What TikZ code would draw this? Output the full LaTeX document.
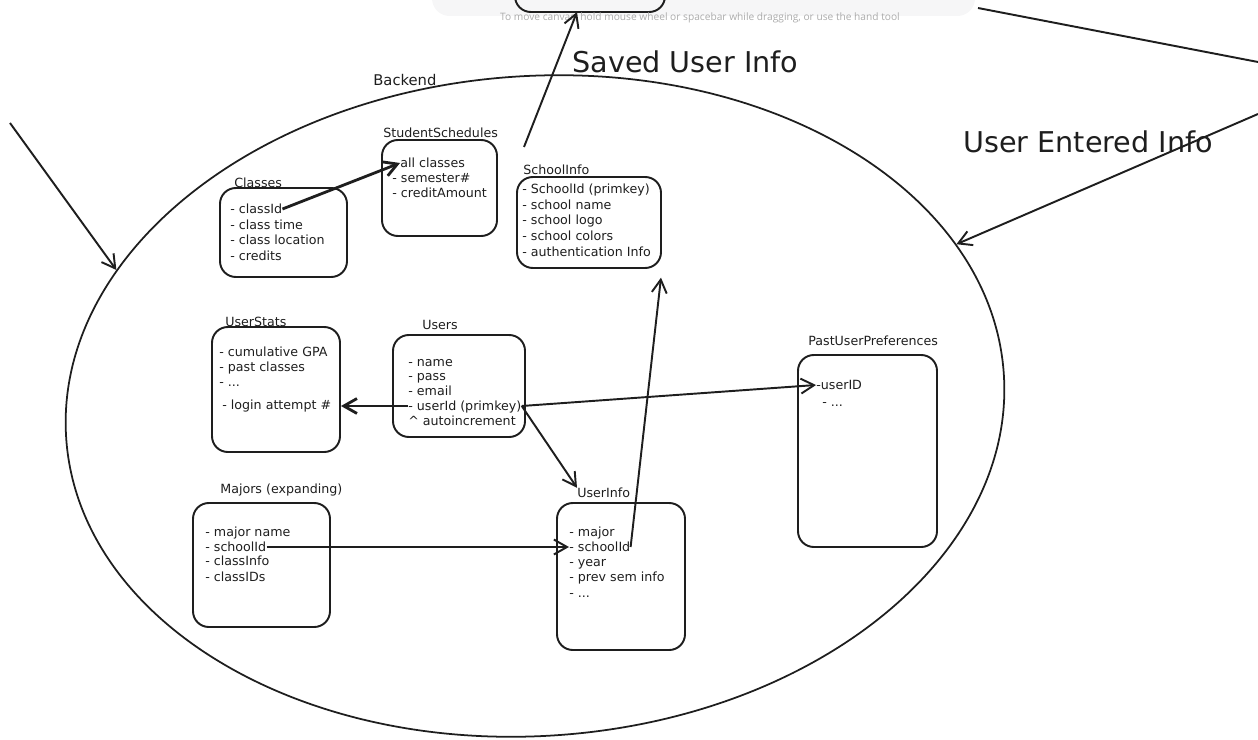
\documentclass[tikz,border=0pt]{standalone}
\usepackage{fontspec}
\setmainfont{DejaVu Sans}
\newfontfamily\hintfont{Open Sans}
\usetikzlibrary{arrows.meta,fit,shapes.geometric}
\definecolor{ink}{HTML}{1E1E1E}
\definecolor{hintgray}{HTML}{ABABAB}
\definecolor{barfill}{HTML}{F6F6F7}
\tikzset{
  tbl/.style={draw=ink, line width=1.1pt, rounded corners=9pt, inner sep=0pt},
  ttl/.style={anchor=west, inner sep=0pt, text=ink, font=\fontsize{7.2}{8.6}\selectfont},
  itm/.style={ttl, text height=1.2ex, text depth=.25ex},
  big/.style={anchor=west, inner sep=0pt, text=ink, font=\fontsize{16.3}{19}\selectfont},
  arr/.style={draw=ink, line width=1.1pt, -{Straight Barb[length=7.5pt,width=8.5pt]}},
  fatarr/.style={arr, line width=1.6pt},
}
\begin{document}
\begin{tikzpicture}[x=0.02cm,y=-0.02cm]
  \clip (0,0) rectangle (1258,740);
  % toolbar and canvas hint
  \fill[barfill, rounded corners=10pt] (432,-30) rectangle (975,16);
  \node[tbl, fit={(515,-40) (665,12)}] (topbox) {};
  \node[text=hintgray, font=\hintfont\fontsize{5.8}{7}\selectfont, inner sep=0pt] (hint) at (700,18)
    {To move canvas, hold mouse wheel or spacebar while dragging, or use the hand tool};

  % backend
  \node[draw=ink, line width=1pt, ellipse, rotate=4, minimum width=18.8cm, minimum height=13.2cm, inner sep=0pt] (backend) at (535,406) {};
  \node[ttl, font=\fontsize{8.4}{10}\selectfont] (backendlbl) at (373,80) {Backend};
  \node[big] (savedlbl) at (572,62) {Saved User Info};
  \node[big] (enteredlbl) at (963,142) {User Entered Info};

  % tables
  \node[tbl, fit={(220,188) (347,277)}] (classes) {};
  \node[ttl] (classesT) at (234,183) {Classes};
  \node[itm] (clsid) at (230,209) {- classId};
  \node[itm] (clstime) at (230,225) {- class time};
  \node[itm] (clsloc) at (230,240) {- class location};
  \node[itm] (clscred) at (230,256) {- credits};

  \node[tbl, fit={(382,140) (497,236)}] (sched) {};
  \node[ttl] (schedT) at (383,133) {StudentSchedules};
  \node[itm] (allcls) at (400,163) {all classes};
  \node[itm] (semno) at (392,178) {- semester\#};
  \node[itm] (credamt) at (392,193) {- creditAmount};

  \node[tbl, fit={(517,177) (661,268)}] (school) {};
  \node[ttl] (schoolT) at (523,170) {SchoolInfo};
  \node[itm] (schid) at (522,189) {- SchoolId (primkey)};
  \node[itm] (schname) at (522,205) {- school name};
  \node[itm] (schlogo) at (522,220) {- school logo};
  \node[itm] (schcol) at (522,236) {- school colors};
  \node[itm] (schauth) at (522,252) {- authentication Info};

  \node[tbl, fit={(212,327) (340,452)}] (stats) {};
  \node[ttl] (statsT) at (225,322) {UserStats};
  \node[itm] (gpa) at (219,352) {- cumulative GPA};
  \node[itm] (pastcls) at (219,367) {- past classes};
  \node[itm] (statsmore) at (219,382) {- ...};
  \node[itm] (login) at (222,405) {- login attempt \#};

  \node[tbl, fit={(393,335) (525,437)}] (users) {};
  \node[ttl] (usersT) at (422,325) {Users};
  \node[itm] (uname) at (408,362) {- name};
  \node[itm] (upass) at (408,376) {- pass};
  \node[itm] (uemail) at (408,391) {- email};
  \node[itm] (userid) at (408,406) {- userId (primkey)};
  \node[itm] (autoinc) at (408,421) {\textasciicircum{} autoincrement};

  \node[tbl, fit={(193,503) (330,627)}] (majors) {};
  \node[ttl] (majorsT) at (220,490) {Majors (expanding)};
  \node[itm] (mname) at (205,532) {- major name};
  \node[itm] (msid) at (205,547) {- schoolId};
  \node[itm] (minfo) at (205,561) {- classInfo};
  \node[itm] (mids) at (205,577) {- classIDs};

  \node[tbl, fit={(557,503) (685,650)}] (uinfo) {};
  \node[ttl] (uinfoT) at (577,493) {UserInfo};
  \node[itm] (uimajor) at (569,532) {- major};
  \node[itm] (uisid) at (569,547) {- schoolId};
  \node[itm] (uiyear) at (569,562) {- year};
  \node[itm] (uiprev) at (569,577) {- prev sem info};
  \node[itm] (uimore) at (569,593) {- ...};

  \node[tbl, fit={(798,355) (937,547)}] (pastpref) {};
  \node[ttl] (pastprefT) at (808,341) {PastUserPreferences};
  \node[itm] (puid) at (816,385) {-userID};
  \node[itm] (pumore) at (822,402) {- ...};

  % links
  \draw[fatarr] (clsid.east) -- (allcls.west);
  \draw[fatarr] (userid.west) -- (userid.west -| stats.east);
  \draw[arr] (userid.east) -- (puid.west);
  \draw[arr] (userid.east) -- (uinfoT.north west);
  \draw[arr] (msid.east) -- (uisid.west);
  \draw[arr, shorten >=5pt] (uisid.east) -- (school.south east);

  % outside flows
  \coordinate (savedFrom) at (524,147);
  \coordinate (savedTo) at (577,12);
  \draw[arr] (savedFrom) -- (savedTo);
  \coordinate (leftFrom) at (10,123);
  \draw[arr] (leftFrom) -- (backend.158);
  \coordinate (rightFrom) at (1258,114);
  \draw[arr] (rightFrom) -- (backend.17);
  \coordinate (topLineA) at (978,8);
  \coordinate (topLineB) at (1258,62);
  \draw[draw=ink, line width=1.1pt] (topLineA) -- (topLineB);
\end{tikzpicture}
\end{document}
